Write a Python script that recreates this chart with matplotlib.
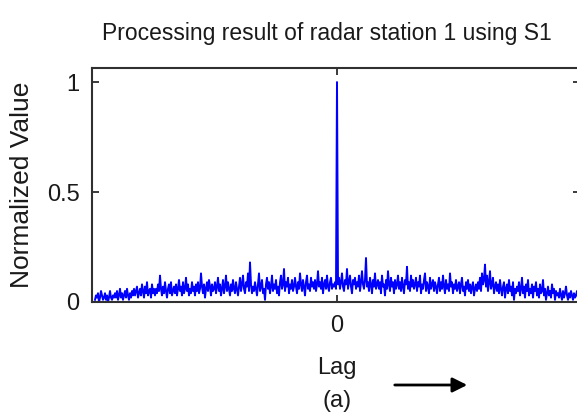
import numpy as np
import matplotlib
matplotlib.use("Agg")
import matplotlib.pyplot as plt

# Normalized correlation magnitude (hundredths), negative lags -242..-1
left_vals = [1, 3, 2, 4, 0, 2, 5, 3, 1, 2, 4, 1, 3, 0, 2, 5, 2, 1, 3, 2,
             4, 2, 5, 1, 3, 6, 2, 4, 1, 3, 5, 2, 6, 3, 1, 4, 2, 5, 3, 6,
             3, 5, 7, 2, 4, 6, 3, 8, 5, 2, 7, 4, 9, 3, 5, 6, 2, 8, 4, 6,
             3, 6, 4, 8, 5, 12, 6, 3, 7, 4, 9, 5, 2, 6, 8, 4, 9, 3, 5, 7,
             4, 8, 3, 6, 10, 5, 7, 3, 9, 4, 6, 11, 5, 8, 3, 6, 4, 9, 5, 7,
             3, 8, 5, 9, 4, 6, 13, 7, 4, 8, 2, 6, 9, 5, 10, 7, 3, 8, 5, 6,
             9, 4, 7, 11, 5, 8, 3, 6, 10, 4, 7, 12, 5, 9, 6, 3, 8, 5, 10, 6,
             4, 9, 6, 3, 7, 11, 5, 8, 12, 6, 4, 9, 7, 13, 5, 18, 8, 4, 7, 5,
             9, 6, 3, 8, 13, 5, 7, 10, 4, 6, 1, 8, 11, 6, 9, 4, 7, 12, 5, 8,
             6, 10, 4, 7, 3, 9, 12, 6, 8, 15, 5, 9, 7, 11, 4, 8, 6, 10, 5, 7,
             11, 7, 4, 9, 6, 13, 8, 5, 10, 7, 3, 9, 12, 6, 8, 5, 11, 7, 9, 6,
             10, 5, 8, 14, 7, 9, 6, 11, 4, 8, 10, 6, 12, 7, 5, 9, 11, 6, 8, 7,
             9, 6]
# Zero-lag peak
peak_val = [100]
# Positive lags 1..242
right_vals = [8, 11, 6, 9, 13, 7, 5, 10, 8, 15, 6, 9, 12, 7, 4, 10, 8, 11, 6, 9,
              7, 12, 5, 9, 14, 8, 6, 10, 20, 7, 9, 5, 11, 8, 4, 10, 7, 13, 6, 8,
              10, 6, 9, 4, 12, 7, 8, 3, 10, 6, 14, 8, 5, 11, 7, 9, 4, 10, 6, 8,
              12, 6, 9, 5, 11, 7, 4, 10, 8, 16, 6, 9, 5, 12, 7, 10, 6, 8, 11, 5,
              9, 7, 12, 4, 8, 6, 10, 13, 5, 9, 7, 4, 11, 6, 8, 10, 5, 9, 7, 4,
              8, 11, 5, 9, 6, 12, 7, 4, 10, 6, 8, 5, 13, 7, 9, 4, 8, 6, 10, 5,
              7, 9, 4, 8, 11, 5, 7, 3, 9, 6, 10, 5, 8, 4, 7, 9, 3, 6, 8, 5,
              9, 6, 11, 5, 13, 8, 10, 17, 7, 12, 5, 9, 14, 6, 8, 11, 4, 7, 9, 5,
              8, 4, 10, 6, 3, 7, 9, 2, 6, 8, 4, 10, 5, 7, 3, 9, 1, 6, 4, 7,
              5, 9, 3, 6, 11, 4, 7, 2, 8, 5, 10, 3, 6, 4, 8, 2, 7, 5, 9, 3,
              6, 2, 8, 4, 5, 10, 3, 6, 1, 4, 7, 3, 5, 2, 8, 4, 6, 1, 5, 3,
              4, 2, 6, 3, 1, 5, 2, 4, 7, 3, 1, 4, 2, 5, 3, 1, 4, 2, 3, 5,
              2, 4]

values = np.array(left_vals + peak_val + right_vals, dtype=float) / 100.0
lags = np.arange(len(values)) - len(left_vals)

title_text = "Processing result of radar station 1 using S1"
y_ticks = [0, 0.5, 1]
y_ticklabels = ["0", "0.5", "1"]
x_ticks = [0]
x_ticklabels = ["0"]

plt.rcParams["font.family"] = ["Liberation Sans", "DejaVu Sans"]
ink = "#1a1a1a"

fig = plt.figure(figsize=(5.77, 4.19), dpi=100)
ax = fig.add_axes([92 / 577, 1 - 302 / 419, (580 - 92) / 577, (302 - 68) / 419])

ax.plot(lags, values, color="#0000ff", linewidth=1.4)

ax.set_xlim(-245, 243)
ax.set_ylim(0, 1.064)
ax.set_yticks(y_ticks)
ax.set_yticklabels(y_ticklabels)
ax.set_xticks(x_ticks)
ax.set_xticklabels(x_ticklabels)

ax.tick_params(direction="in", length=5, width=1.2, top=True, right=True,
               labelsize=17, colors=ink, pad=9)
for sp in ax.spines.values():
    sp.set_linewidth(1.5)
    sp.set_color("#303030")

ax.set_title(title_text, fontsize=16.5, color=ink, pad=20,
             x=(327 - 92) / 488)
ax.set_ylabel("Normalized Value", fontsize=19, color=ink, labelpad=9)

fig.text(337 / 577, 1 - 368 / 419, "Lag", ha="center", va="center",
         fontsize=17, color=ink)
fig.text(337 / 577, 1 - 401 / 419, "(a)", ha="center", va="center",
         fontsize=17, color=ink)
fig.add_artist(matplotlib.patches.FancyArrowPatch(
    (392 / 577, 1 - 385 / 419), (470 / 577, 1 - 385 / 419),
    transform=fig.transFigure, arrowstyle="-|>", mutation_scale=22,
    color="black", linewidth=2))

fig.savefig("out.png", dpi=100)
